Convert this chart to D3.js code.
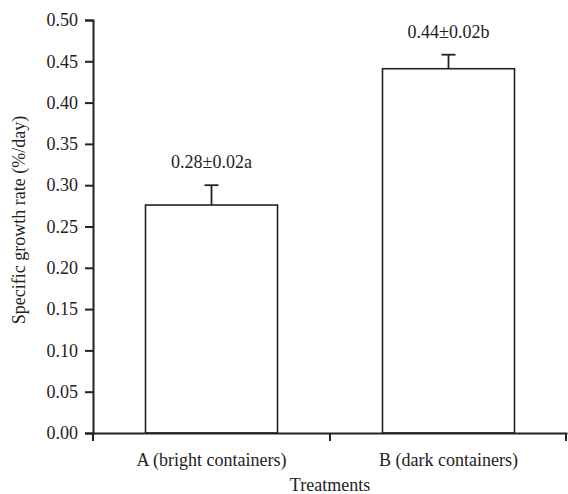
<!DOCTYPE html>
<html>
<head>
<meta charset="utf-8">
<script src="https://cdn.jsdelivr.net/npm/d3@7"></script>
<style>
  body { margin: 0; background: #fff; }
</style>
</head>
<body>
<div id="chart"></div>
<script>
// data
const categories = ['A (bright containers)', 'B (dark containers)']
const means = [0.276, 0.441]
const errors = [0.024, 0.017]
const labels = ['0.28±0.02a', '0.44±0.02b']
const yTicks = [0, 0.05, 0.1, 0.15, 0.2, 0.25, 0.3, 0.35, 0.4, 0.45, 0.5]

const width = 568
const height = 494
const margin = { top: 20, right: 1, bottom: 61, left: 93 }
const ink = '#222'
const font = '"Liberation Serif", "Times New Roman", serif'
const fontSize = '18px'

const svg = d3.select('#chart')
  .append('svg')
  .attr('width', width)
  .attr('height', height)

let x = d3.scaleBand()
  .domain(categories)
  .range([margin.left, width - margin.right])
  .paddingInner(0.443)
  .paddingOuter(0.2215)

let y = d3.scaleLinear()
  .domain([0, 0.5])
  .range([height - margin.bottom, margin.top])

// bars
svg.append('g')
  .selectAll('rect')
  .data(categories)
  .enter()
  .append('rect')
  .attr('x', (d) => x(d))
  .attr('y', (d, i) => y(means[i]))
  .attr('width', x.bandwidth())
  .attr('height', (d, i) => y(0) - y(means[i]))
  .attr('fill', '#fff')
  .attr('stroke', ink)
  .attr('stroke-width', 1.6)

// error bars (upper half only)
const err = svg.append('g')
  .attr('stroke', ink)
  .attr('stroke-width', 1.8)
categories.forEach((c, i) => {
  let cx = x(c) + x.bandwidth() / 2
  err.append('line')
    .attr('x1', cx).attr('x2', cx)
    .attr('y1', y(means[i])).attr('y2', y(means[i] + errors[i]))
  err.append('line')
    .attr('x1', cx - 7).attr('x2', cx + 7)
    .attr('y1', y(means[i] + errors[i])).attr('y2', y(means[i] + errors[i]))
})

// value labels
svg.append('g')
  .selectAll('text')
  .data(categories)
  .enter()
  .append('text')
  .attr('x', (d) => x(d) + x.bandwidth() / 2)
  .attr('y', (d, i) => y(means[i] + errors[i]) - 17)
  .attr('text-anchor', 'middle')
  .style('font-family', font)
  .style('font-size', fontSize)
  .style('fill', ink)
  .text((d, i) => labels[i])

// y axis
let yAxis = svg.append('g')
  .attr('transform', `translate(${margin.left},0)`)
  .call(d3.axisLeft(y).tickValues(yTicks).tickFormat(d3.format('.2f')).tickSize(8).tickPadding(7))
yAxis.select('.domain').attr('stroke', ink).attr('stroke-width', 2)
yAxis.selectAll('.tick line').attr('stroke', ink).attr('stroke-width', 2)
yAxis.selectAll('.tick text')
  .style('font-family', font)
  .style('font-size', fontSize)
  .style('fill', ink)

// x axis: labels centred on bands, ticks on band boundaries
let xAxis = svg.append('g')
  .attr('transform', `translate(0,${y(0)})`)
  .call(d3.axisBottom(x).tickSize(0).tickPadding(20))
xAxis.select('.domain').attr('stroke', ink).attr('stroke-width', 2)
xAxis.selectAll('.tick text')
  .style('font-family', font)
  .style('font-size', fontSize)
  .style('fill', ink)

let bounds = [x.range()[0]].concat(categories.map((c) => x(c) + x.bandwidth() + x.step() * x.paddingInner() / 2))
bounds[bounds.length - 1] = x.range()[1] - 1
xAxis.selectAll('line.bound')
  .data(bounds)
  .enter()
  .append('line')
  .attr('class', 'bound')
  .attr('x1', (d) => d).attr('x2', (d) => d)
  .attr('y1', 0).attr('y2', 8)
  .attr('stroke', ink)
  .attr('stroke-width', 2)

// axis titles
svg.append('text')
  .attr('x', (margin.left + width - margin.right) / 2)
  .attr('y', 491)
  .attr('text-anchor', 'middle')
  .style('font-family', font)
  .style('font-size', fontSize)
  .style('fill', ink)
  .text('Treatments')

svg.append('text')
  .attr('transform', 'translate(25,220) rotate(-90)')
  .attr('text-anchor', 'middle')
  .style('font-family', font)
  .style('font-size', fontSize)
  .style('fill', ink)
  .text('Specific growth rate (%/day)')
</script>
</body>
</html>
